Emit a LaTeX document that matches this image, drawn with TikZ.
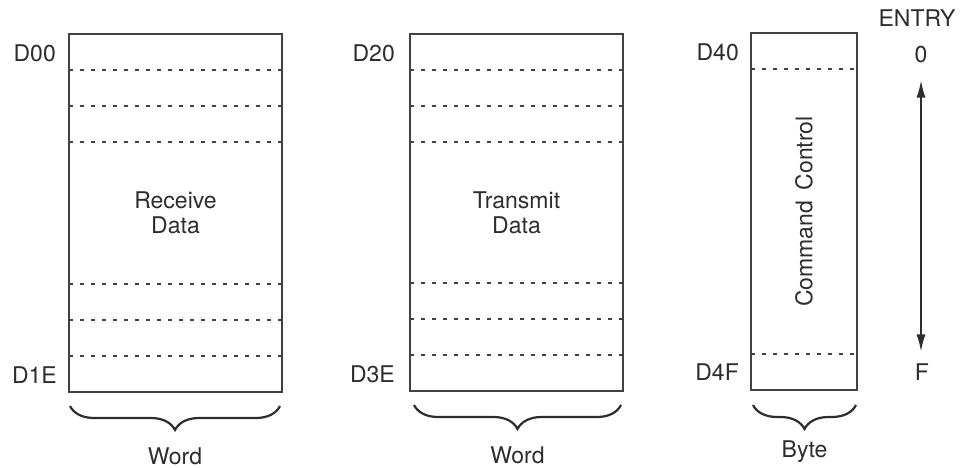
\documentclass[tikz,border=0pt]{standalone}
\usepackage{fontspec}
\setmainfont{TeX Gyre Heros}
\usepackage{tikz}
\newcommand{\lRecv}{Receive\\Data}
\newcommand{\lXmit}{Transmit\\Data}
\newcommand{\lCmd}{Command\hspace{.45em}Control}
\newcommand{\lWord}{Word}
\newcommand{\lByte}{Byte}
\newcommand{\lEntry}{ENTRY}
\usetikzlibrary{decorations.pathreplacing, arrows.meta, calc}
\definecolor{inkGrey}{RGB}{45, 45, 45}
\definecolor{lineGrey}{RGB}{65, 65, 65}

\begin{document}
\begin{tikzpicture} [
        x=1pt, y=-1pt,
        font=\fontsize{23}{25}\selectfont,
        text=inkGrey,
        mem/.style={draw=lineGrey, line width=1.8pt, outer sep=0, inner sep=0,
                    anchor=north west, align=center},
        row line/.style={draw=lineGrey, line width=1.5pt, dash pattern=on 4pt off 7pt},
        brace/.style={draw=inkGrey, line width=2.2pt, decorate,
                      decoration={brace, amplitude=24pt}},
        addr/.style={anchor=east, inner sep=0},
        lbl/.style={inner sep=0}
    ]

    \useasboundingbox (0,0) rectangle (972,468);

    % the three buffers
    \node[mem, minimum width=213pt, minimum height=358pt] (recv) at (69,34) {\lRecv};
    \node[mem, minimum width=213pt, minimum height=357pt] (xmit) at (410,34) {\lXmit};
    \node[mem, minimum width=106pt, minimum height=357pt] (ctrl) at (751,33) {};
    \node[rotate=90] (ctrl txt) at (ctrl.center) {\lCmd};

    \foreach \n in {recv, xmit} {
        \foreach \k in {1, 2, 3} {
            \draw[row line] ([yshift=-\k*36pt]\n.north west) -- ([yshift=-\k*36pt]\n.north east);
            \draw[row line] ([yshift=\k*36pt]\n.south west) -- ([yshift=\k*36pt]\n.south east);
        }
    }
    \draw[row line] ([yshift=-36pt]ctrl.north west) -- ([yshift=-36pt]ctrl.north east);
    \draw[row line] ([yshift=36pt]ctrl.south west) -- ([yshift=36pt]ctrl.south east);

    % addresses
    \node[addr] (a D00) at ([shift={(-13,19)}]recv.north west) {D00};
    \node[addr] (a D1E) at ([shift={(-12,-17)}]recv.south west) {D1E};
    \node[addr] (a D20) at ([shift={(-15,19)}]xmit.north west) {D20};
    \node[addr] (a D3E) at ([shift={(-15,-17)}]xmit.south west) {D3E};
    \node[addr] (a D40) at ([shift={(-12,19)}]ctrl.north west) {D40};
    \node[addr] (a D4F) at ([shift={(-12,-18)}]ctrl.south west) {D4F};

    % widths
    \draw[brace] ([shift={(-2,14)}]recv.south east) -- ([shift={(1,14)}]recv.south west)
        node[lbl, midway, below=41pt] (recv w) {\lWord};
    \draw[brace] ([shift={(-2,14)}]xmit.south east) -- ([shift={(4,14)}]xmit.south west)
        node[lbl, midway, below=41pt] (xmit w) {\lWord};
    \draw[brace] ([shift={(-1,15)}]ctrl.south east) -- ([shift={(2,15)}]ctrl.south west)
        node[lbl, midway, below=35pt] (ctrl w) {\lByte};

    % entry scale
    \node[lbl] (entry) at (917,18) {\lEntry};
    \node[lbl] (e0) at (921,55) {0};
    \node[lbl] (eF) at (922,372) {F};
    \draw[{Latex[length=17pt, width=9pt]}-{Latex[length=17pt, width=9pt]}, draw=inkGrey,
          line width=1.5pt, shorten <=17pt, shorten >=12pt] (e0.south) -- (e0.south |- eF.north);

\end{tikzpicture}
\end{document}
